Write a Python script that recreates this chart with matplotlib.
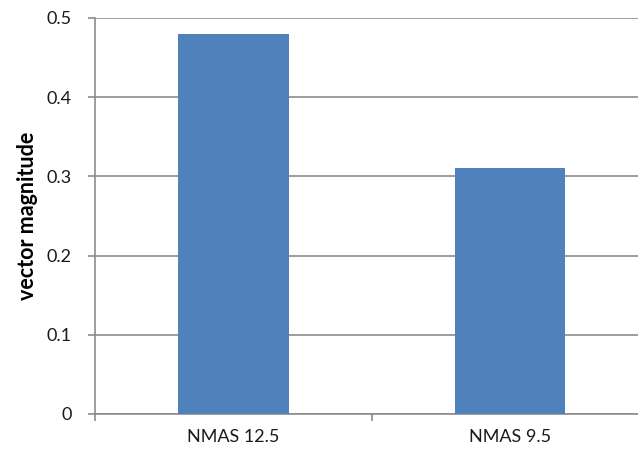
import matplotlib
matplotlib.use("Agg")
import matplotlib.pyplot as plt

categories = ["NMAS 12.5", "NMAS 9.5"]
values = [0.48, 0.31]
yticks = [0, 0.1, 0.2, 0.3, 0.4, 0.5]
ytick_labels = ["0", "0.1", "0.2", "0.3", "0.4", "0.5"]

plt.rcParams['font.family'] = ['Lato', 'DejaVu Sans']

fig = plt.figure(figsize=(6.38, 4.5), dpi=100)
ax = fig.add_axes([95/638, 36/450, 553.5/638, 396/450])

x = list(range(len(categories)))
ax.bar(x, values, width=0.4, color="#4F81BD", zorder=3)

ax.set_xlim(-0.5, len(categories) - 0.5)
ax.set_ylim(0, 0.5)
ax.set_yticks(yticks)
ax.set_yticklabels(ytick_labels, fontsize=13, color="#1a1a1a")
ax.yaxis.grid(True, color="#8C8C8C", linewidth=1.2, zorder=0)

ax.set_xticks(x)
ax.set_xticklabels(categories, fontsize=13, color="#1a1a1a")
ax.set_xticks([i - 0.5 for i in range(len(categories) + 1)], minor=True)
ax.tick_params(axis='x', which='major', length=0, pad=11)
ax.tick_params(axis='x', which='minor', length=5, color="#8C8C8C", width=1.2)
ax.tick_params(axis='y', length=5, color="#8C8C8C", width=1.2, pad=12)

for s in ['top', 'right']:
    ax.spines[s].set_visible(False)
for s in ['left', 'bottom']:
    ax.spines[s].set_color("#8C8C8C")
    ax.spines[s].set_linewidth(1.2)

ax.set_ylabel("vector magnitude", fontsize=15.5, fontweight='bold', labelpad=6, color="#000000")

fig.savefig("out.png", dpi=100)
